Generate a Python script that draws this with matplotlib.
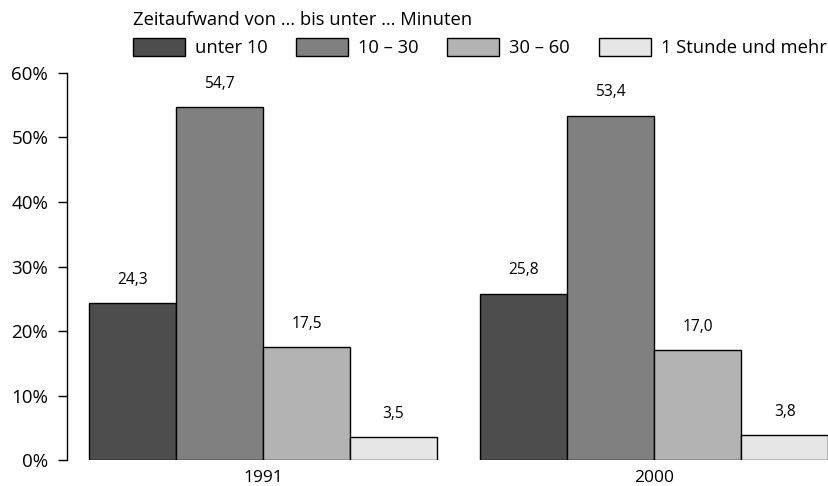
import matplotlib
matplotlib.use("Agg")
import matplotlib.pyplot as plt
import numpy as np

plt.rcParams['font.family'] = ['Open Sans', 'DejaVu Sans']

years = ["1991", "2000"]
categories = ["unter 10", "10 – 30", "30 – 60", "1 Stunde und mehr"]
values = {
    "1991": [24.3, 54.7, 17.5, 3.5],
    "2000": [25.8, 53.4, 17.0, 3.8],
}
colors = ["#4d4d4d", "#808080", "#b3b3b3", "#e6e6e6"]
yticks = [0, 10, 20, 30, 40, 50, 60]
legend_title = "Zeitaufwand von … bis unter … Minuten"

W, H = 829, 486
fig = plt.figure(figsize=(W / 100, H / 100), dpi=100)
ax = fig.add_axes([67 / W, (H - 460) / H, 1 - 67 / W, (460 - 73) / H])

group_starts = [0.0, 4.5]
fs = 13.5
lfs = 13.2
handles = []
for gi, y in enumerate(years):
    for ci, cat in enumerate(categories):
        x = group_starts[gi] + ci
        v = values[y][ci]
        b = ax.bar(x, v, width=1.0, color=colors[ci], edgecolor="black",
                   linewidth=1.0, label=cat if gi == 0 else None)
        if gi == 0:
            handles.append(b)
        ax.annotate(f"{v:.1f}".replace(".", ","), (x, v), xytext=(0, 14),
                    textcoords="offset points", ha="center", va="baseline",
                    fontsize=11.2)

ax.set_xlim(-0.753, 8.01)
ax.set_ylim(0, 60)
ax.set_yticks(yticks)
ax.set_yticklabels([f"{t}%" for t in yticks], fontsize=fs)
ax.set_xticks([gs + 1.5 for gs in group_starts])
ax.set_xticklabels(years, fontsize=12.5)
ax.tick_params(axis="x", length=0, pad=7)
ax.tick_params(axis="y", length=6.5, width=1.0, pad=7)
for s in ["top", "right", "bottom"]:
    ax.spines[s].set_visible(False)
ax.spines["left"].set_linewidth(1.0)

px = lfs * 100 / 72
leg = fig.legend(handles=[h[0] for h in handles], labels=categories,
                 title=legend_title, ncol=4, frameon=False,
                 loc="upper left", bbox_to_anchor=(133 / W, 1 - 11 / H),
                 fontsize=lfs, title_fontsize=lfs, handlelength=52 / px,
                 handleheight=20 / px, handletextpad=10 / px,
                 columnspacing=28.5 / px,
                 borderpad=0, borderaxespad=0, alignment="left")

fig.savefig("out.png", dpi=100)
